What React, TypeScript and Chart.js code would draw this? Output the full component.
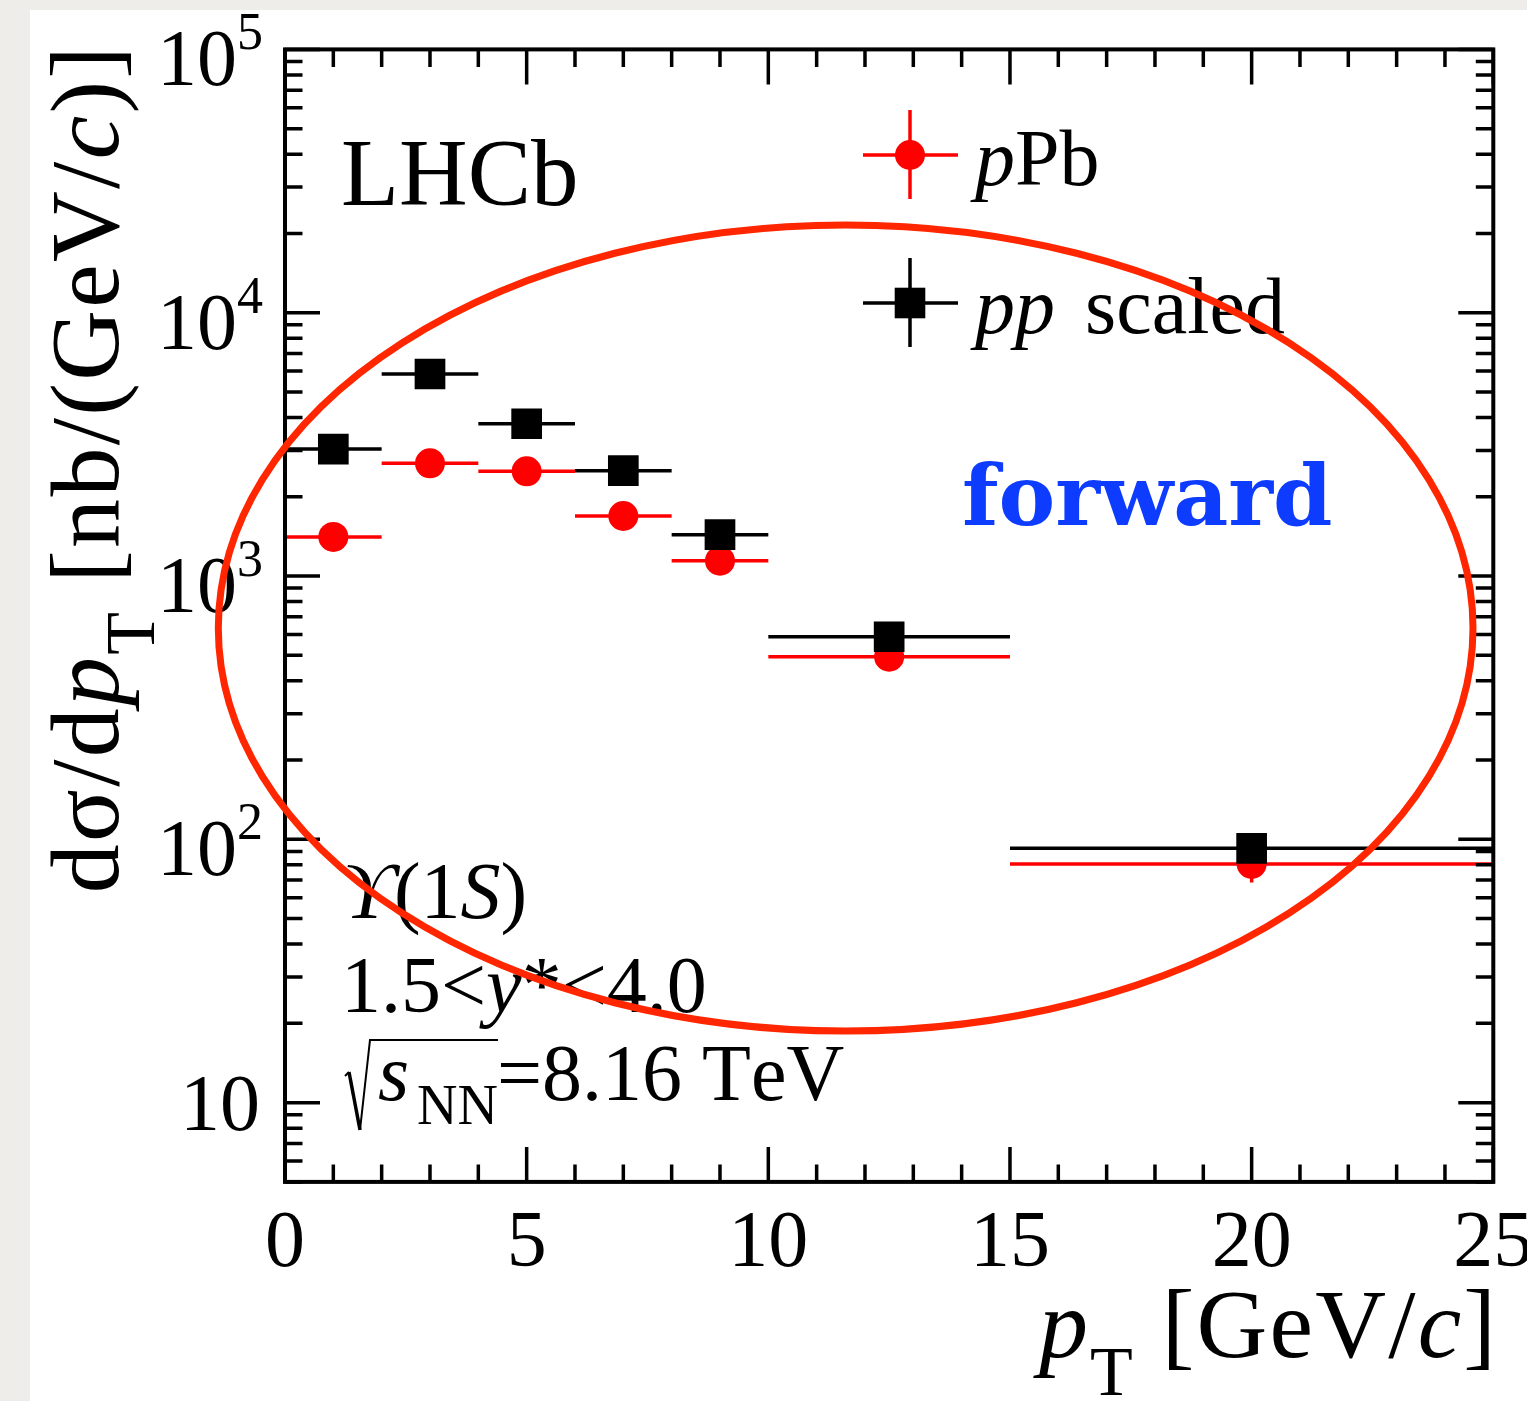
import React, { useEffect, useRef } from 'react';
import { Chart, registerables } from 'chart.js';

Chart.register(...registerables);

// ---- data ----
const binCenters = [1, 3, 5, 7, 9, 12.5, 20];
const binLow = [0, 2, 4, 6, 8, 10, 15];
const binHigh = [2, 4, 6, 8, 10, 15, 25];
const pPbValues = [1407, 2679, 2498, 1690, 1143, 494, 80.6];
const pPbErrors = [70, 110, 100, 70, 50, 25, 12];
const ppValues = [3035, 5851, 3787, 2512, 1435, 588, 92.4];
const ppErrors = [120, 200, 140, 90, 55, 25, 6];
const xTickValues = [0, 5, 10, 15, 20, 25];
const xTickLabels = ['0', '5', '10', '15', '20', '25'];
const yTickValues = [10, 100, 1000, 10000, 100000];
const yTickExponents = ['', '2', '3', '4', '5'];
// annotation ellipse (data coordinates)
const ellipseCenterX = 11.6;
const ellipseHalfWidthX = 12.98;
const ellipseTopY = 21540;
const ellipseBottomY = 18.7;

const SERIF = '"Liberation Serif", "Times New Roman", serif';

type Seg = { t: string; size: number; italic?: boolean; bold?: boolean; dy?: number; dx?: number; family?: string };

function fontOf(s: Seg) {
  return `${s.italic ? 'italic ' : ''}${s.bold ? 'bold ' : ''}${s.size}px ${s.family || SERIF}`;
}

function drawRich(
  ctx: CanvasRenderingContext2D,
  segs: Seg[],
  x: number,
  y: number,
  align: 'left' | 'right' | 'center',
  spacing = 0,
) {
  ctx.textAlign = 'left';
  ctx.textBaseline = 'alphabetic';
  // measure char by char so extra spacing can be applied
  const widths = segs.map((s) => {
    ctx.font = fontOf(s);
    const chars = Array.from(s.t);
    return chars.map((c) => ctx.measureText(c).width + spacing);
  });
  const total = widths.reduce((a, w, i) => a + w.reduce((p, q) => p + q, 0) + (segs[i].dx || 0), 0) - spacing;
  let cx = align === 'left' ? x : align === 'right' ? x - total : x - total / 2;
  segs.forEach((s, i) => {
    ctx.font = fontOf(s);
    cx += s.dx || 0;
    Array.from(s.t).forEach((c, j) => {
      ctx.fillText(c, cx, y + (s.dy || 0));
      cx += widths[i][j];
    });
  });
  return total;
}

const hepPlugin = {
  id: 'hep',
  beforeDatasetDraw(chart: any, args: any) {
    const ds = chart.data.datasets[args.index];
    const xs = chart.scales.x;
    const ys = chart.scales.y;
    const vals = ds.label === 'pPb' ? pPbValues : ppValues;
    const errs = ds.label === 'pPb' ? pPbErrors : ppErrors;
    const ctx: CanvasRenderingContext2D = chart.ctx;
    const a = chart.chartArea;
    ctx.save();
    ctx.beginPath();
    ctx.rect(a.left, a.top, a.right - a.left, a.bottom - a.top);
    ctx.clip();
    ctx.strokeStyle = ds.borderColor;
    ctx.lineWidth = 3.5;
    ctx.lineCap = 'butt';
    for (let i = 0; i < vals.length; i++) {
      const py = ys.getPixelForValue(vals[i]);
      const px = xs.getPixelForValue(binCenters[i]);
      ctx.beginPath();
      ctx.moveTo(xs.getPixelForValue(binLow[i]), py);
      ctx.lineTo(xs.getPixelForValue(binHigh[i]), py);
      ctx.moveTo(px, ys.getPixelForValue(vals[i] - errs[i]));
      ctx.lineTo(px, ys.getPixelForValue(vals[i] + errs[i]));
      ctx.stroke();
    }
    ctx.restore();
  },
  afterDraw(chart: any) {
    const ctx: CanvasRenderingContext2D = chart.ctx;
    const xs = chart.scales.x;
    const ys = chart.scales.y;
    const a = chart.chartArea;
    ctx.save();
    ctx.fillStyle = '#000';
    ctx.strokeStyle = '#000';

    // ticks
    ctx.lineWidth = 3.5;
    ctx.lineCap = 'butt';
    const major = 35;
    const minor = 17.5;
    for (let v = 0; v <= 25; v++) {
      const px = xs.getPixelForValue(v);
      const len = v % 5 === 0 ? major : minor;
      ctx.beginPath();
      ctx.moveTo(px, a.bottom);
      ctx.lineTo(px, a.bottom - len);
      ctx.moveTo(px, a.top);
      ctx.lineTo(px, a.top + len);
      ctx.stroke();
    }
    for (let d = 0; d <= 5; d++) {
      for (let m = 1; m <= 9; m++) {
        const v = m * Math.pow(10, d);
        if (v < ys.min - 1e-9 || v > ys.max + 1e-6) continue;
        const py = ys.getPixelForValue(v);
        const len = m === 1 ? major : minor;
        ctx.beginPath();
        ctx.moveTo(a.left, py);
        ctx.lineTo(a.left + len, py);
        ctx.moveTo(a.right, py);
        ctx.lineTo(a.right - len, py);
        ctx.stroke();
      }
    }
    // frame
    ctx.lineWidth = 4;
    ctx.strokeRect(a.left, a.top, a.right - a.left, a.bottom - a.top);

    // x tick labels
    xTickValues.forEach((v, i) => {
      drawRich(ctx, [{ t: xTickLabels[i], size: 80 }], xs.getPixelForValue(v), a.bottom + 84, 'center');
    });
    // y tick labels
    yTickValues.forEach((v, i) => {
      const py = ys.getPixelForValue(v);
      if (yTickExponents[i]) {
        drawRich(ctx, [{ t: '10', size: 80 }, { t: yTickExponents[i], size: 52, dy: -36 }], 263, py + 36, 'right');
      } else {
        drawRich(ctx, [{ t: '10', size: 80 }], 260, py + 27, 'right');
      }
    });

    // axis titles
    drawRich(ctx, [
      { t: 'p', size: 98, italic: true },
      { t: 'T', size: 70, dy: 38 },
      { t: ' [GeV/', size: 98 },
      { t: 'c', size: 98, italic: true },
      { t: ']', size: 98 },
    ], 1496, 1357, 'right', 2.2);

    ctx.save();
    ctx.translate(118, 46);
    ctx.rotate(-Math.PI / 2);
    drawRich(ctx, [
      { t: 'd\u03c3/d', size: 98 },
      { t: 'p', size: 98, italic: true },
      { t: 'T', size: 70, dy: 36 },
      { t: ' [nb/(GeV/', size: 98 },
      { t: 'c', size: 98, italic: true },
      { t: ')]', size: 98 },
    ], 0, 0, 'right', 2.3);
    ctx.restore();

    // labels
    drawRich(ctx, [{ t: 'LHCb', size: 95 }], 341, 205, 'left');
    ctx.fillStyle = '#0d3cff';
    drawRich(ctx, [{ t: 'forward', size: 85, bold: true, family: '"DejaVu Serif", serif' }], 962, 525, 'left');
    ctx.fillStyle = '#000';

    drawRich(ctx, [
      { t: '\u03d2', size: 80, italic: true },
      { t: '(1', size: 80 },
      { t: 'S', size: 80, italic: true },
      { t: ')', size: 80 },
    ], 343, 918, 'left');
    drawRich(ctx, [
      { t: '1.5<', size: 80 },
      { t: 'y', size: 80, italic: true },
      { t: '*<4.0', size: 80 },
    ], 341, 1012, 'left');
    // sqrt(s_NN)
    const bx = 343;
    const by = 1100;
    ctx.lineWidth = 2;
    ctx.beginPath();
    ctx.moveTo(bx + 2, by - 24);
    ctx.lineTo(bx + 6, by - 28);
    ctx.stroke();
    ctx.lineWidth = 3.5;
    ctx.beginPath();
    ctx.moveTo(bx + 6, by - 28);
    ctx.lineTo(bx + 17, by + 30);
    ctx.stroke();
    ctx.lineWidth = 2;
    ctx.beginPath();
    ctx.moveTo(bx + 17, by + 30);
    ctx.lineTo(bx + 27, by - 60);
    ctx.lineTo(bx + 155, by - 60);
    ctx.stroke();
    drawRich(ctx, [{ t: 's', size: 80, italic: true }], bx + 35, by, 'left');
    drawRich(ctx, [{ t: 'NN', size: 56 }], bx + 74, by + 24, 'left');
    drawRich(ctx, [{ t: '=8.16 TeV', size: 80 }], bx + 154, by, 'left');

    // legend
    const legendRows = [
      { y: 155, color: '#ff0000', shape: 'circle', segs: [{ t: 'p', size: 80, italic: true }, { t: 'Pb', size: 80 }] as Seg[] },
      { y: 303, color: '#000000', shape: 'rect', segs: [{ t: 'pp', size: 80, italic: true }, { t: ' scaled', size: 80, dx: 10 }] as Seg[] },
    ];
    legendRows.forEach((r) => {
      const cx = 910;
      ctx.strokeStyle = r.color;
      ctx.fillStyle = r.color;
      ctx.lineWidth = 3.5;
      ctx.beginPath();
      ctx.moveTo(863, r.y);
      ctx.lineTo(958, r.y);
      ctx.moveTo(cx, r.y - 45);
      ctx.lineTo(cx, r.y + 44);
      ctx.stroke();
      ctx.beginPath();
      if (r.shape === 'circle') {
        ctx.arc(cx, r.y, 15, 0, Math.PI * 2);
      } else {
        ctx.rect(cx - 15.3, r.y - 15.3, 30.6, 30.6);
      }
      ctx.fill();
      ctx.fillStyle = '#000';
      drawRich(ctx, r.segs, 975, r.y + 30, 'left');
    });

    // annotation ellipse
    const ecx = xs.getPixelForValue(ellipseCenterX);
    const erx = xs.getPixelForValue(ellipseCenterX + ellipseHalfWidthX) - ecx;
    const etop = ys.getPixelForValue(ellipseTopY);
    const ebot = ys.getPixelForValue(ellipseBottomY);
    ctx.strokeStyle = '#ff2600';
    ctx.lineWidth = 7;
    ctx.beginPath();
    ctx.ellipse(ecx, (etop + ebot) / 2, erx, (ebot - etop) / 2, 0, 0, Math.PI * 2);
    ctx.stroke();
    ctx.restore();
  },
};

export default function App() {
  const ref = useRef<HTMLCanvasElement>(null);
  useEffect(() => {
    const canvas = ref.current!;
    const chart = new Chart(canvas, {
      type: 'scatter',
      data: {
        datasets: [
          {
            label: 'pp scaled',
            data: binCenters.map((x, i) => ({ x, y: ppValues[i] })),
            pointStyle: 'rect',
            pointRadius: 21.7,
            pointHoverRadius: 21.7,
            backgroundColor: '#000000',
            borderColor: '#000000',
            borderWidth: 0,
            showLine: false,
            order: 1,
          },
          {
            label: 'pPb',
            data: binCenters.map((x, i) => ({ x, y: pPbValues[i] })),
            pointStyle: 'circle',
            pointRadius: 15,
            pointHoverRadius: 15,
            backgroundColor: '#ff0000',
            borderColor: '#ff0000',
            borderWidth: 0,
            showLine: false,
            order: 2,
          },
        ],
      },
      options: {
        responsive: false,
        animation: false,
        devicePixelRatio: 1,
        events: [],
        layout: { padding: { left: 285, top: 49.4, right: 33.7, bottom: 219.1 } },
        scales: {
          x: { type: 'linear', min: 0, max: 25, display: false },
          y: { type: 'logarithmic', min: 5, max: 100000, display: false },
        },
        plugins: { legend: { display: false }, tooltip: { enabled: false } },
      },
      plugins: [hepPlugin],
    } as any);
    return () => chart.destroy();
  }, []);

  return (
    <div style={{ position: 'fixed', left: 0, top: 0, width: 1527, height: 1401, background: '#efede9', overflow: 'hidden' }}>
      <div style={{ position: 'absolute', left: 30, top: 10, right: 0, bottom: 0, background: '#ffffff' }} />
      <canvas ref={ref} width={1527} height={1401} style={{ position: 'absolute', left: 0, top: 0, width: 1527, height: 1401 }} />
    </div>
  );
}
